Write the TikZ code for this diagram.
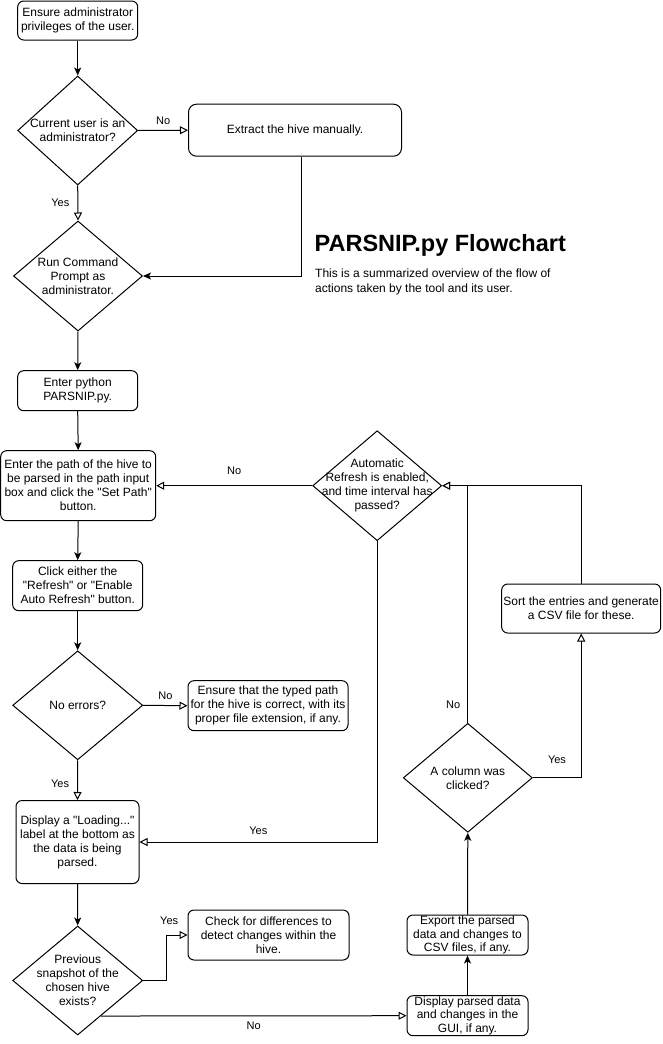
\documentclass[tikz,border=0pt]{standalone}
\usepackage{fontspec}
\setmainfont{Liberation Sans}[Ligatures=TeXOff]
\usetikzlibrary{shapes.geometric,arrows.meta,calc}
\begin{document}
\begin{tikzpicture}[x=1pt,y=-1pt,
  every node/.style={inner sep=0pt},
  box/.style={draw, rounded corners=6pt, align=center, line width=1pt,
    font=\fontsize{12}{14}\selectfont},
  dec/.style={draw, diamond, inner sep=0pt, line width=1pt},
  txt/.style={align=center, font=\fontsize{12}{14}\selectfont},
  lab/.style={inner sep=2pt, font=\fontsize{11}{13}\selectfont},
  conn/.style={line width=1pt},
  arr/.style={conn, -{Stealth[length=8pt,width=7pt,inset=2pt]}},
  oarr/.style={conn, -{Triangle[open,length=8pt,width=8pt,fill=white]}}
]
\useasboundingbox (0,0) rectangle (662,1044);

% nodes
\node[box, minimum width=120, minimum height=39] (n1) at (77.7,20.5) {Ensure administrator\\privileges of the user.};
\node[dec, minimum width=120, minimum height=109] (d1) at (77.7,130.5) {};
\node[txt] (d1t) at (d1) {Current user is an\\administrator?};
\node[box, minimum width=213, minimum height=52, rounded corners=8pt] (n2) at (295,130.2) {Extract the hive manually.};
\node[dec, minimum width=129, minimum height=110] (d2) at (78,276) {};
\node[txt] (d2t) at (d2) {Run Command\\Prompt as\\administrator.};
\node[box, minimum width=120, minimum height=40] (n3) at (77.7,390.7) {Enter python\\PARSNIP.py.};
\node[box, minimum width=155, minimum height=70] (n4) at (78.2,485.7) {Enter the path of the hive to\\be parsed in the path input\\box and click the "Set Path"\\button.};
\node[box, minimum width=130, minimum height=50] (n5) at (77.7,585.7) {Click either the\\"Refresh" or "Enable\\Auto Refresh" button.};
\node[dec, minimum width=130, minimum height=109] (d3) at (77.7,705.3) {};
\node[txt] (d3t) at (d3) {No errors?};
\node[box, minimum width=160, minimum height=50] (n6) at (268,705.7) {Ensure that the typed path\\for the hive is correct, with its\\proper file extension, if any.};
\node[box, minimum width=123, minimum height=83] (n7) at (77.5,842) {Display a "Loading..."\\label at the bottom as\\the data is being\\parsed.};
\node[dec, minimum width=130, minimum height=109] (d4) at (77.7,980.5) {};
\node[txt] (d4t) at (d4) {Previous\\snapshot of the\\chosen hive\\exists?};
\node[box, minimum width=161, minimum height=50] (n8) at (268.5,935) {Check for differences to\\detect changes within the\\hive.};
\node[box, minimum width=121, minimum height=40, font=\fontsize{12}{13.5}\selectfont] (n9) at (467.5,1015.7) {Display parsed data\\and changes in the\\GUI, if any.};
\node[box, minimum width=121, minimum height=40, font=\fontsize{12}{13.5}\selectfont] (n10) at (467.5,935) {Export the parsed\\data and changes to\\CSV files, if any.};
\node[dec, minimum width=129, minimum height=109] (d5) at (467.8,777.8) {};
\node[txt] (d5t) at (d5) {A column was\\clicked?};
\node[box, minimum width=159, minimum height=49] (n11) at (581.2,608.5) {Sort the entries and generate\\a CSV file for these.};
\node[dec, minimum width=129, minimum height=110] (d6) at (377.2,485.7) {};
\node[txt] (d6t) at (d6) {Automatic\\Refresh is enabled,\\and time interval has\\passed?};

\node[anchor=base west, font=\fontsize{23.5}{28}\selectfont\bfseries] (title) at (314.5,251.7) {PARSNIP.py Flowchart};
\node[anchor=north west, align=left, font=\fontsize{12}{15}\selectfont] (desc) at (315,268.5) {This is a summarized overview of the flow of\\actions taken by the tool and its user.};

% connectors
\draw[arr] (n1.south) -- (d1.north);
\draw[oarr] (d1.east) -- node[lab, above=3pt] {No} (n2.west);
\draw[oarr] (d1.south) -- node[lab, left=6pt] {Yes} (d2.north);
\draw[arr] ($(n2.south)+(6.7,0)$) |- (d2.east);
\draw[arr] (d2.south) -- (n3.north);
\draw[arr] (n3.south) -- (n4.north);
\draw[arr] (n4.south) -- (n5.north);
\draw[arr] (n5.south) -- (d3.north);
\draw[oarr] (d3.east) -- node[lab, above=3pt] {No} (n6.west);
\draw[oarr] (d3.south) -- node[lab, left=6pt, yshift=-4pt] {Yes} (n7.north);
\draw[arr] (n7.south) -- (d4.north);
\draw[oarr] (d4.east) -- ++(23,0) |- node[lab, pos=0.5, above=8pt, xshift=3pt] {Yes} (n8.west);
\draw[oarr] ($(d4.south)!0.354!(d4.east)$) -- node[lab, below=3.5pt] {No} (n9.west);
\draw[arr] (n9.north) -- (n10.south);
\draw[arr] (n10.north) -- (d5.south);
\draw[oarr] (d5.north) -- node[lab, pos=0.076, left=5pt] {No} (d5.north |- d6.east) -- (d6.east);
\draw[oarr] (d5.east) -| node[lab, pos=0.25, above=12pt] {Yes} (n11.south);
\draw[oarr] (n11.north) |- (d6.east);
\draw[oarr] (d6.west) -- node[lab, above=9pt] {No} (n4.east);
\draw[oarr] (d6.south) |- node[lab, pos=0.75, above=5pt] {Yes} (n7.east);
\end{tikzpicture}
\end{document}
